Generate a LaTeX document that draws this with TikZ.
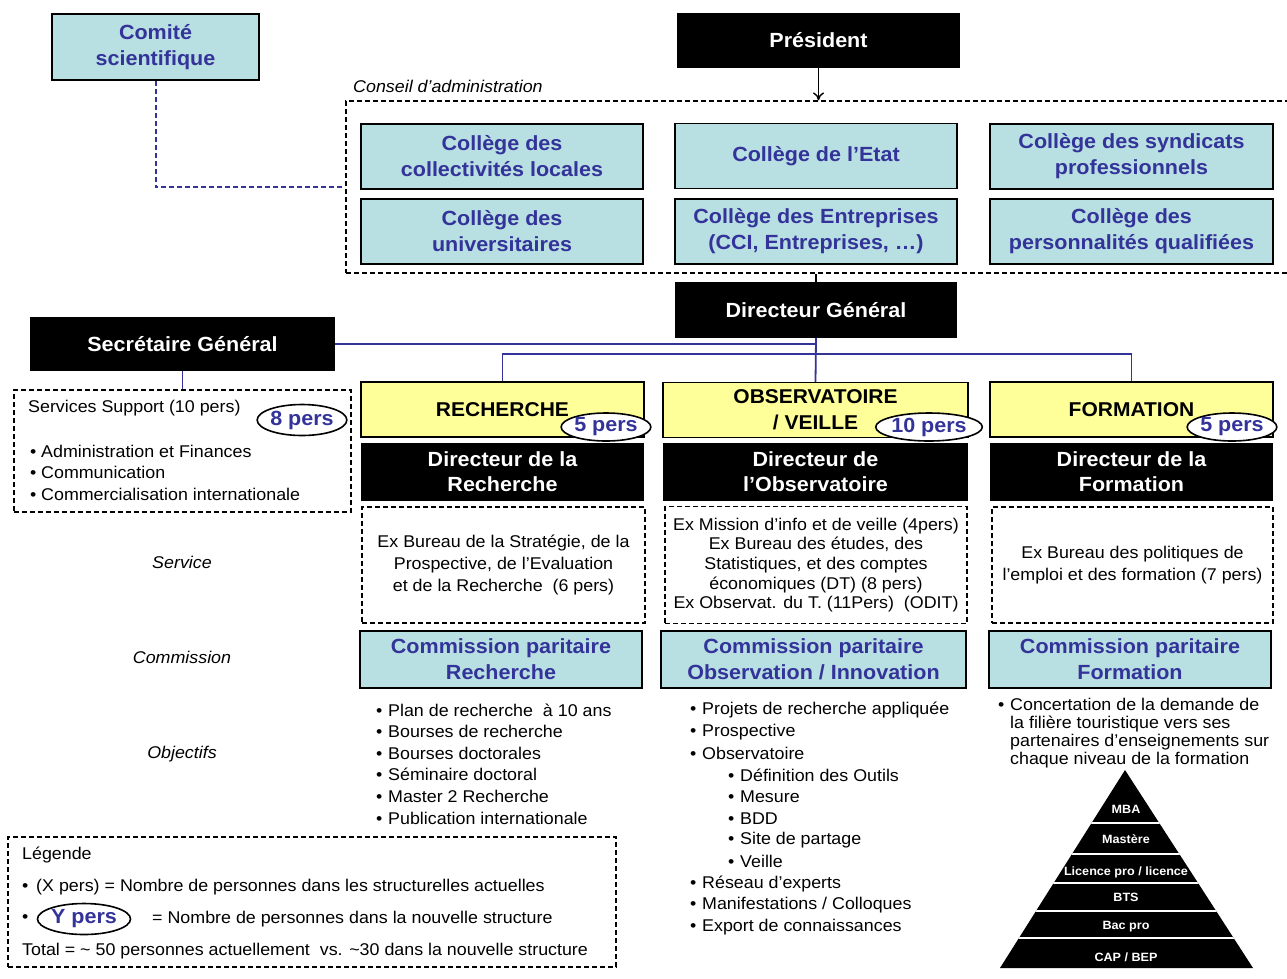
\documentclass[tikz,border=0pt]{standalone}
\usepackage{fontspec}
\setmainfont{Liberation Sans}[FakeStretch=1.05]
\usetikzlibrary{shapes.geometric,arrows.meta}
\definecolor{bleu}{HTML}{333399}
\definecolor{cyanclair}{HTML}{B8DFE2}
\definecolor{jaune}{HTML}{FFFF99}
\newcommand{\puce}[1]{\makebox[#1][l]{•}}

\begin{document}
\begin{tikzpicture}[
	x=1pt,
	y=-1pt,
	college/.style={draw=black, line width=1.8pt, fill=cyanclair, text=bleu,
		font=\fontsize{20.5}{26}\selectfont\bfseries, align=center, inner sep=0pt},
	chef/.style={fill=black, text=white,
		font=\fontsize{20.5}{25}\selectfont\bfseries, align=center, inner sep=0pt},
	pole/.style={draw=black, line width=1.2pt, fill=jaune,
		font=\fontsize{20}{26}\selectfont\bfseries, align=center, inner sep=0pt},
	cadre/.style={draw=black, line width=1.3pt, dash pattern=on 5pt off 3pt,
		align=center, inner sep=0pt, font=\fontsize{17}{22}\selectfont},
	pers/.style={ellipse, draw=black, line width=1.6pt, fill=white, text=bleu,
		font=\fontsize{20.5}{22}\selectfont\bfseries, inner sep=0pt,
		minimum width=86pt, minimum height=28pt},
	lien/.style={draw=bleu, line width=1.8pt},
	txt/.style={font=\fontsize{17}{22}\selectfont, inner sep=0pt, anchor=west},
	etiq/.style={font=\fontsize{17}{22}\selectfont\itshape, inner sep=0pt},
	niveau/.style={text=white, font=\fontsize{12}{13}\selectfont\bfseries, inner sep=0pt}]

\useasboundingbox (0,0) rectangle (1287,978);

% haut : comite, president, conseil
\node[college, minimum width=207pt, minimum height=66pt] (comite)
	at (155.5,47) {Comité\\scientifique};
\node[chef, minimum width=283pt, minimum height=55pt] (president)
	at (818.5,40.5) {Président};
\node[cadre, minimum width=946pt, minimum height=172pt] (conseil)
	at (819,187) {};
\node[etiq, anchor=west] (conseil-lbl) at (353,86) {Conseil d’administration};

% colleges
\node[college, minimum width=282pt, minimum height=65pt] (col-loc)
	at (502,156.5) {Collège des\\collectivités locales};
\node[college, minimum width=282pt, minimum height=65pt] (col-etat)
	at (816,156) {Collège de l’Etat};
\node[college, minimum width=283pt, minimum height=65pt] (col-synd)
	at (1131.5,156.5) {Collège des syndicats\\professionnels};
\node[college, minimum width=282pt, minimum height=65pt] (col-univ)
	at (502,231.5) {Collège des\\universitaires};
\node[college, minimum width=282pt, minimum height=65pt] (col-entr)
	at (816,231.5) {Collège des Entreprises\\(CCI, Entreprises, …)};
\node[college, minimum width=283pt, minimum height=65pt] (col-pers)
	at (1131.5,231.5) {Collège des\\personnalités qualifiées};

% direction
\node[chef, minimum width=282pt, minimum height=56pt] (dg)
	at (816,310) {Directeur Général};
\node[chef, minimum width=305pt, minimum height=54pt] (sg)
	at (182.5,344) {Secrétaire Général};

% services support
\node[cadre, minimum width=337pt, minimum height=122pt] (support)
	at (182.5,451) {};
\node[txt] (support-t) at (28,408) {Services Support (10 pers)};
\foreach \t/\y [count=\i] in {Administration et Finances/451,
	Communication/472, Commercialisation internationale/494}
	\node[txt] (support\i) at (30,\y) {\puce{11pt}\t};
\node[pers, minimum width=88pt, minimum height=31pt] (pers-sg)
	at (302,420) {8 pers};

% poles
\node[pole, minimum width=283pt, minimum height=55pt] (rech)
	at (502.5,409.5) {RECHERCHE};
\node[pole, minimum width=305pt, minimum height=55pt] (obs)
	at (815.5,410) {OBSERVATOIRE\\/ VEILLE};
\node[pole, minimum width=283pt, minimum height=55pt] (form)
	at (1131.5,409.5) {FORMATION};
\node[pers] (pers-rech) at (606,427) {5 pers};
\node[pers, minimum width=80pt] (pers-obs) at (929,427) {10 pers};
\node[pers] (pers-form) at (1232,427) {5 pers};

% directeurs
\node[chef, minimum width=283pt, minimum height=58pt] (dir-rech)
	at (502.5,472) {Directeur de la\\Recherche};
\node[chef, minimum width=305pt, minimum height=58pt] (dir-obs)
	at (815.5,472) {Directeur de\\l’Observatoire};
\node[chef, minimum width=283pt, minimum height=58pt] (dir-form)
	at (1131.5,472) {Directeur de la\\Formation};

% services
\node[cadre, minimum width=283pt, minimum height=116pt] (serv-rech)
	at (503.5,565) {Ex Bureau de la Stratégie, de la\\Prospective, de l’Evaluation\\et de la Recherche~ (6 pers)};
\node[cadre, minimum width=302pt, minimum height=117pt,
	font=\fontsize{17}{19.6}\selectfont] (serv-obs)
	at (816,565) {Ex Mission d’info et de veille (4pers)\\Ex Bureau des études, des\\Statistiques, et des comptes\\économiques (DT) (8 pers)\\Ex Observat. du T. (11Pers)~ (ODIT)};
\node[cadre, minimum width=281pt, minimum height=116pt] (serv-form)
	at (1132.5,565) {Ex Bureau des politiques de\\l’emploi et des formation (7 pers)};

% commissions
\node[college, minimum width=282pt, minimum height=57pt] (com-rech)
	at (501,659.5) {Commission paritaire\\Recherche};
\node[college, minimum width=305pt, minimum height=57pt] (com-obs)
	at (813.5,659.5) {Commission paritaire\\Observation / Innovation};
\node[college, minimum width=282pt, minimum height=57pt] (com-form)
	at (1130,659.5) {Commission paritaire\\Formation};

% etiquettes de gauche
\node[etiq] (l-serv) at (182,562) {Service};
\node[etiq] (l-com) at (182,657) {Commission};
\node[etiq] (l-obj) at (182,754) {Objectifs};

% objectifs
\foreach \t [count=\i] in {Plan de recherche~ à 10 ans, Bourses de recherche,
	Bourses doctorales, Séminaire doctoral, Master 2 Recherche,
	Publication internationale}
	\node[txt] (obj-rech\i) at (376,710+21.6*\i-21.6) {\puce{12pt}\t};
\foreach \t/\x [count=\i] in {Projets de recherche appliquée/690, Prospective/690,
	Observatoire/690, Définition des Outils/728, Mesure/728, BDD/728,
	Site de partage/728, Veille/728, Réseau d’experts/690,
	{Manifestations / Colloques}/690, Export de connaissances/690}
	\node[txt] (obj-obs\i) at (\x,710+21.7*\i-21.7) {\puce{12pt}\t};
\node[txt, anchor=north west, align=left, font=\fontsize{17}{18}\selectfont]
	(obj-form) at (998,697.5) {\puce{12pt}Concertation de la demande de\\
	\hspace*{12pt}la filière touristique vers ses\\
	\hspace*{12pt}partenaires d’enseignements sur\\
	\hspace*{12pt}chaque niveau de la formation};

% pyramide des formations
\begin{scope}
\path[fill=black] (1000,968) -- (1125,770) -- (1253,968) -- cycle;
\clip (1000,968) -- (1125,770) -- (1253,968) -- cycle;
\foreach \y in {823,854,883,911,938}
	\draw[white, line width=2pt] (990,\y) -- (1260,\y);
\end{scope}
\foreach \t/\y [count=\i] in {MBA/809, Mastère/839, {Licence pro / licence}/872,
	BTS/897, Bac pro/927, {CAP / BEP}/957}
	\node[niveau] (niv\i) at (1126,\y) {\t};

% legende
\node[cadre, minimum width=608pt, minimum height=130pt] (legende)
	at (312,902) {};
\node[txt] (leg-titre) at (22,855) {Légende};
\node[txt] (leg1) at (22,887) {\puce{14pt}(X pers) = Nombre de personnes dans les structurelles actuelles};
\node[txt] (leg2) at (22,919) {\puce{14pt}};
\node[pers, minimum width=88pt, minimum height=31pt] (leg-pers)
	at (84,919) {Y pers};
\node[txt] (leg2-t) at (152,919) {= Nombre de personnes dans la nouvelle structure};
\node[txt] (leg-total) at (22,951) {Total = \textasciitilde\ 50 personnes actuellement~ vs. \textasciitilde30 dans la nouvelle structure};

% liens
\draw[-{To[length=8pt,width=11pt]}, line width=1.4pt] (president.south)
	-- (president.south |- conseil.north);
\draw[line width=1.2pt] (conseil.south -| dg.north) -- (dg.north);
\draw[lien, line width=2pt, dash pattern=on 5pt off 3pt] (comite.south) |- (conseil.west);
\draw[lien] (dg.south) -- (obs.north);
\draw[lien] (dg.south) |- (sg.east);
\draw[lien] (sg.south) -- (support.north);
\coordinate (bus) at (0,354);
\draw[lien] (rech.north) |- (bus -| form.north) -- (form.north);
\end{tikzpicture}
\end{document}
